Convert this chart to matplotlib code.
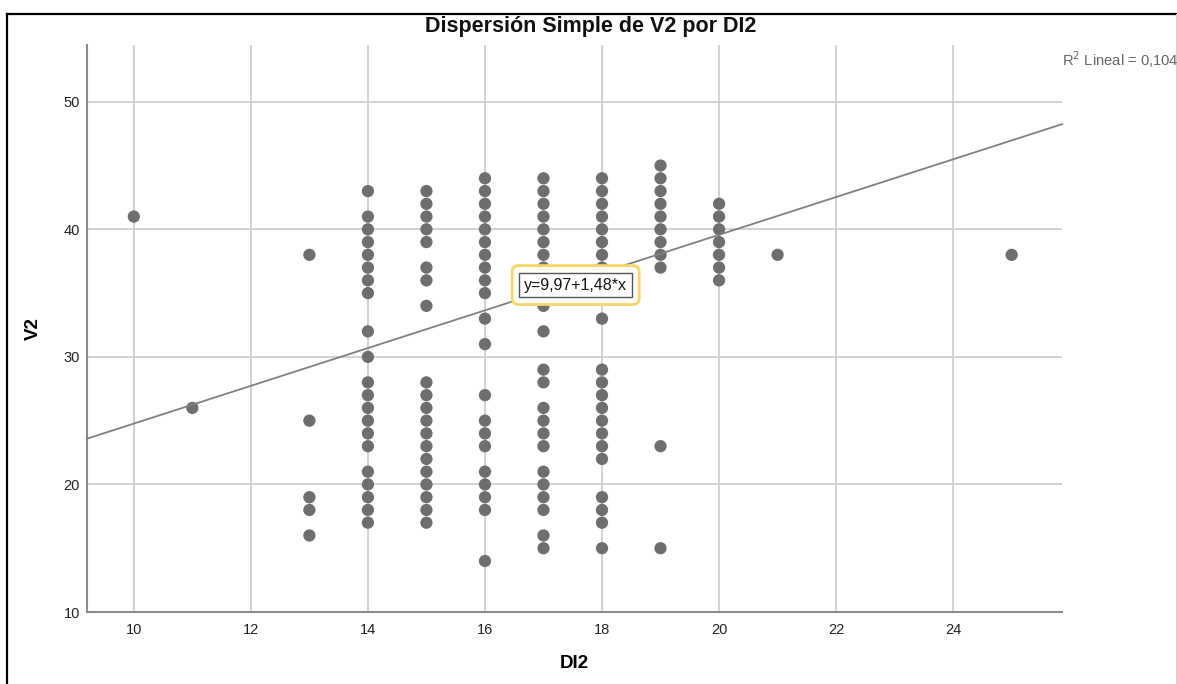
import matplotlib
matplotlib.use("Agg")
import matplotlib.pyplot as plt
from matplotlib.lines import Line2D

plt.rcParams['font.family'] = ['Liberation Sans', 'DejaVu Sans']

# Observed V2 values grouped by DI2
di2_levels = [10, 11, 13, 14, 15, 16, 17, 18, 19, 20, 21, 25]
v2_by_level = [
    [41],
    [26],
    [38, 25, 19, 18, 16],
    [43, 41, 40, 39, 38, 37, 36, 35, 32, 30, 28, 27, 26, 25, 24, 23, 21, 20, 19, 18, 17],
    [43, 42, 41, 40, 39, 37, 36, 34, 28, 27, 26, 25, 24, 23, 22, 21, 20, 19, 18, 17],
    [44, 43, 42, 41, 40, 39, 38, 37, 36, 35, 33, 31, 27, 25, 24, 23, 21, 20, 19, 18, 14],
    [44, 43, 42, 41, 40, 39, 38, 37, 36, 35, 34, 32, 29, 28, 26, 25, 24, 23, 21, 20, 19, 18, 16, 15],
    [44, 43, 42, 41, 40, 39, 38, 37, 36, 35, 33, 29, 28, 27, 26, 25, 24, 23, 22, 19, 18, 17, 15],
    [45, 44, 43, 42, 41, 40, 39, 38, 37, 23, 15],
    [42, 41, 40, 39, 38, 37, 36],
    [38],
    [38],
]

# Linear fit reported on the chart
intercept = 9.97
slope = 1.48
r2_text = "0,104"

x_ticks = [10, 12, 14, 16, 18, 20, 22, 24]
y_ticks = [10, 20, 30, 40, 50]

W, H = 1177, 684
fig = plt.figure(figsize=(W / 100, H / 100), dpi=100)

ax = fig.add_axes([87 / W, 1 - 612 / H, (1062 - 87) / W, (612 - 45) / H])
xmin, xmax = 9.2, 25.86
ymin, ymax = 10, 54.45
ax.set_xlim(xmin, xmax)
ax.set_ylim(ymin, ymax)

ax.set_xticks(x_ticks)
ax.set_yticks(y_ticks)
ax.tick_params(length=0, labelsize=10.5, colors='#222222')
ax.tick_params(axis='x', pad=8)
ax.tick_params(axis='y', pad=5)
ax.grid(True, color='#cfcfcf', linewidth=1.3)
ax.set_axisbelow(True)
for side in ('top', 'right'):
    ax.spines[side].set_visible(False)
for side in ('left', 'bottom'):
    ax.spines[side].set_color('#8c8c8c')
    ax.spines[side].set_linewidth(1.5)

xs, ys = [], []
for lvl, vals in zip(di2_levels, v2_by_level):
    xs += [lvl] * len(vals)
    ys += vals
ax.scatter(xs, ys, s=78, color='#6e6e6e', edgecolors='none', zorder=3)

# Fit line across the full x range
ax.plot([xmin, xmax], [intercept + slope * xmin, intercept + slope * xmax],
        color='#808080', linewidth=1.3, zorder=4, clip_on=False)

# Equation label: boxed text inside a highlighted outline
eq_x, eq_y = 17.55, 35.63
eq_label = "y=9,97+1,48*x"
ax.text(eq_x, eq_y, eq_label, ha='center', va='center', fontsize=11.5,
        color='white', alpha=0.0, zorder=5,
        bbox=dict(boxstyle='round,pad=0.75,rounding_size=0.4', facecolor='white',
                  edgecolor='#f5d66a', linewidth=2.0))
ax.text(eq_x, eq_y, eq_label, ha='center', va='center', fontsize=11.5,
        color='#111111', zorder=6,
        bbox=dict(boxstyle='square,pad=0.3', facecolor='white',
                  edgecolor='#555555', linewidth=1.0))

ax.set_xlabel("DI2", fontsize=13.5, fontweight='bold', labelpad=13)
ax.set_ylabel("V2", fontsize=13.5, fontweight='bold', labelpad=16)

fig.text(1062 / W, 1 - 60 / H, "R$^2$ Lineal = " + r2_text, fontsize=10.6,
         color='#666666', ha='left', va='center')
fig.text(591 / W, 1 - 26.5 / H, "Dispersión Simple de V2 por DI2", fontsize=15.5,
         fontweight='bold', ha='center', va='center', color='#111111')

# Outer frame
fig.add_artist(Line2D([7 / W, 1.0], [1 - 14 / H, 1 - 14 / H], color='black',
                      linewidth=1.6, transform=fig.transFigure))
fig.add_artist(Line2D([7 / W, 7 / W], [0, 1 - 14 / H], color='black',
                      linewidth=1.6, transform=fig.transFigure))
fig.add_artist(Line2D([1176 / W, 1176 / W], [0, 1 - 14 / H], color='#d0d0d0',
                      linewidth=0.8, transform=fig.transFigure))

fig.savefig("out.png", dpi=100)
